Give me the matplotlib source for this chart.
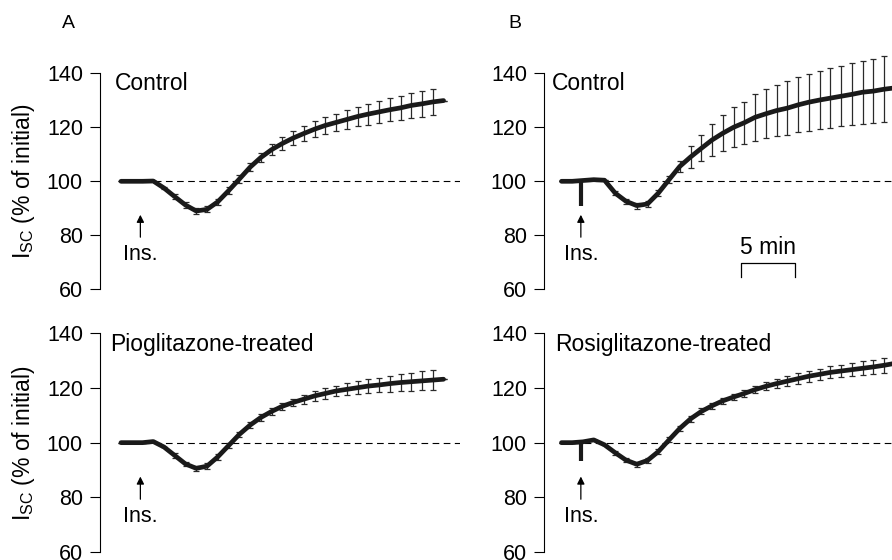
"""Short-circuit current after insulin: control vs glitazone-treated cells."""
import matplotlib
matplotlib.use("Agg")
import matplotlib.pyplot as plt

plt.rcParams.update({
    "font.family": ["Liberation Sans", "DejaVu Sans"],
    "mathtext.default": "regular",
    "axes.spines.top": False, "axes.spines.right": False,
    "axes.spines.bottom": False, "axes.linewidth": 0.8,
    "figure.facecolor": "white",
})

# time since start of trace (min), one sample per minute
MINUTES_A = list(range(0, 31))
MINUTES_B = list(range(0, 32))
INSULIN_AT = 1.8

# panel A, control
A_CTRL_MEAN = [100, 100, 100, 100.1, 97.5, 94.3, 91.2, 89.0, 89.6, 92.4,
               96.5, 100.8, 105.2, 108.8, 111.7, 114.0, 116.0, 117.7, 119.3, 120.7,
               121.8, 122.9, 124.0, 124.9, 125.7, 126.5, 127.2, 128.1, 128.7, 129.4,
               129.9]
A_CTRL_SEM = [0, 0, 0, 0, 0.5, 0.9, 1.0, 1.1, 1.1, 1.2,
              1.3, 1.4, 1.5, 1.7, 2.0, 2.3, 2.6, 2.8, 2.9, 3.1,
              3.3, 3.5, 3.7, 3.9, 4.1, 4.3, 4.4, 4.5, 4.7, 4.8,
              0]

# panel A, pioglitazone-treated
PIO_MEAN = [100, 100, 100, 100.4, 98.4, 95.3, 92.2, 90.6, 91.4, 94.8,
            98.9, 103.0, 106.4, 109.2, 111.4, 113.3, 114.7, 115.9, 117.1, 118.0,
            118.9, 119.5, 120.1, 120.7, 121.1, 121.6, 122.0, 122.3, 122.6, 122.9,
            123.2]
PIO_SEM = [0, 0, 0, 0, 0, 0.8, 0.9, 1.0, 1.0, 1.0,
           1.0, 1.0, 1.1, 1.1, 1.2, 1.3, 1.4, 1.6, 1.7, 1.9,
           2.0, 2.2, 2.3, 2.5, 2.7, 2.9, 3.1, 3.3, 3.5, 3.8,
           0]

# panel B, control
B_CTRL_MEAN = [100, 100, 100.3, 100.6, 100.4, 95.6, 92.6, 91.0, 91.6, 95.6,
               100.6, 105.5, 109.0, 112.2, 115.3, 117.8, 120.0, 121.7, 123.7, 125.0,
               126.2, 127.1, 128.3, 129.3, 130.1, 130.8, 131.5, 132.2, 133.0, 133.4,
               134.1, 134.6]
B_CTRL_SEM = [0, 0, 0, 0, 0, 0.8, 1.0, 1.1, 1.1, 1.2,
              1.3, 2.2, 4.0, 4.8, 6.0, 6.7, 7.4, 7.8, 8.6, 9.1,
              9.5, 9.9, 10.2, 10.5, 10.7, 11.0, 11.2, 11.5, 11.7, 11.9,
              12.2, 12.3]
B_CTRL_SPIKE = 91.0

# panel B, rosiglitazone-treated
ROSI_MEAN = [100, 100, 100.3, 101.0, 99.2, 96.3, 93.6, 92.1, 93.5, 96.7,
             101.0, 105.2, 108.7, 111.4, 113.5, 115.3, 116.7, 118.0, 119.4, 120.6,
             121.6, 122.5, 123.4, 124.3, 125.0, 125.7, 126.2, 126.7, 127.2, 127.7,
             128.3, 129.0]
ROSI_SEM = [0, 0, 0, 0, 0, 0.8, 0.8, 0.9, 0.9, 0.9,
            0.9, 1.0, 1.0, 1.1, 1.1, 1.2, 1.2, 1.3, 1.4, 1.5,
            1.7, 1.8, 1.9, 2.0, 2.1, 2.2, 2.3, 2.4, 2.5, 2.6,
            2.7, 2.8]
ROSI_SPIKE = 93.3

YTICKS = [60, 80, 100, 120, 140]
LINE = "#1a1a1a"


def trace_panel(ax, t, mean, sem, label, label_x, xlim, spike=None, ylabel=True):
    ax.set_xlim(*xlim)
    ax.set_ylim(60, 140)
    ax.hlines(100, t[0], xlim[1], colors="k", lw=0.8, linestyles=[(0, (6, 4))])
    eb = ax.errorbar(t, mean, yerr=sem, fmt="none", ecolor="#2a2a2a",
                     elinewidth=0.9, capsize=2.0, capthick=0.9, zorder=2)
    # bars may poke above the 140 tick, as in the original figure
    for art in eb.lines[1] + eb.lines[2]:
        art.set_clip_on(False)
    ax.plot(t, mean, color=LINE, lw=3.4, solid_joinstyle="round",
            solid_capstyle="round", zorder=3)
    if spike is not None:
        ax.vlines(INSULIN_AT, spike, 100, colors=LINE, lw=3.0, zorder=3)
    ax.annotate("", xy=(INSULIN_AT, 87.6), xytext=(INSULIN_AT, 79.3),
                arrowprops=dict(arrowstyle="-|>", color="k", lw=0.9,
                                mutation_scale=11, shrinkA=0, shrinkB=0))
    ax.text(INSULIN_AT, 71, "Ins.", ha="center", va="baseline", fontsize=15.5)
    ax.text(label_x, 133.7, label, ha="left", va="baseline", fontsize=16.5)
    ax.set_xticks([])
    ax.set_yticks(YTICKS)
    ax.tick_params(axis="y", length=7.5, width=0.8, pad=5, labelsize=15.5)
    if ylabel:
        ax.set_ylabel(r"I$_{SC}$ (% of initial)", fontsize=16.5)
        ax.yaxis.set_label_coords(-0.176, 0.5)


fig = plt.figure(figsize=(8.92, 5.6), dpi=100)
XLIM_A = (-1.93, 31.53)
XLIM_B = (-1.6, 30.74)
ax_a1 = fig.add_axes([0.1124, 0.4834, 0.4033, 0.3857])
ax_a2 = fig.add_axes([0.1124, 0.0143, 0.4033, 0.3905])
ax_b1 = fig.add_axes([0.6102, 0.4834, 0.3898, 0.3857])
ax_b2 = fig.add_axes([0.6102, 0.0143, 0.3898, 0.3905])

trace_panel(ax_a1, MINUTES_A, A_CTRL_MEAN, A_CTRL_SEM, "Control", -0.53, XLIM_A)
trace_panel(ax_a2, MINUTES_A, PIO_MEAN, PIO_SEM, "Pioglitazone-treated", -1.0, XLIM_A)
trace_panel(ax_b1, MINUTES_B, B_CTRL_MEAN, B_CTRL_SEM, "Control", -0.93, XLIM_B,
            spike=B_CTRL_SPIKE, ylabel=False)
trace_panel(ax_b2, MINUTES_B, ROSI_MEAN, ROSI_SEM, "Rosiglitazone-treated", -0.6, XLIM_B,
            spike=ROSI_SPIKE, ylabel=False)

# 5 min scale bar
bar_x0, bar_len = 16.7, 5
ax_b1.plot([bar_x0, bar_x0, bar_x0 + bar_len, bar_x0 + bar_len],
           [64.4, 69.6, 69.6, 64.4], color="k", lw=0.9)
ax_b1.text(bar_x0 + bar_len / 2, 73.2, "5 min", ha="center", va="baseline", fontsize=16.5)

fig.text(68 / 892, 1 - 23.5 / 560, "A", ha="center", va="center", fontsize=14)
fig.text(515 / 892, 1 - 23.5 / 560, "B", ha="center", va="center", fontsize=14)

fig.savefig("out.png", dpi=100)
